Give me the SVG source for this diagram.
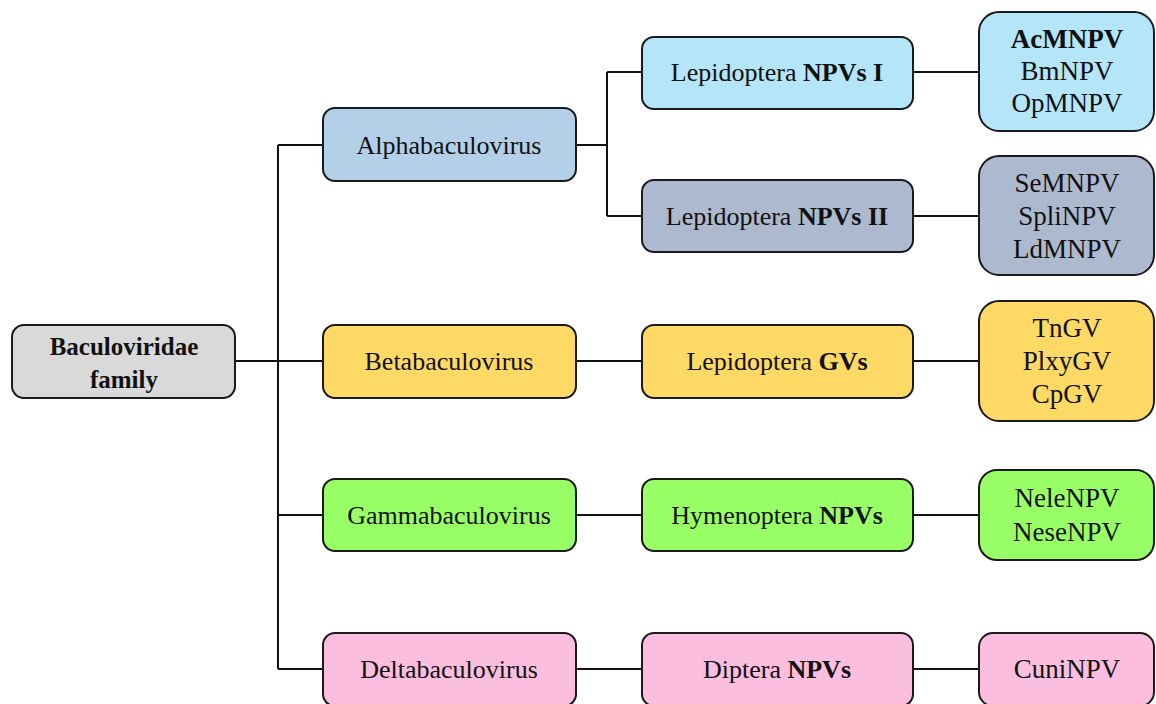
<svg xmlns="http://www.w3.org/2000/svg" width="1156" height="704" viewBox="0 0 1156 704">
<style>
.b{stroke:#1a1a1a;stroke-width:2}
.t{font-size:26px;fill:#111;text-anchor:middle;dominant-baseline:central}
.r{font-size:27px}
.s{font-size:25px}
.bd{font-weight:bold}
.c{fill:none;stroke:#111;stroke-width:2}
</style>
<rect width="1156" height="704" fill="#fff"/>
<g id="connectors">
<path class="c" d="M235 361H323M278 145V669M278 145H323M278 515H323M278 669H323"/>
<path class="c" d="M576 145H607M607 72V216M607 72H642M607 216H642"/>
<path class="c" d="M576 361H642M576 515H642M576 669H642"/>
<path class="c" d="M913 72H979M913 216H979M913 361H979M913 515H979M913 669H979"/>
</g>
<g font-family="Liberation Serif, serif">
<g id="root"><rect class="b" x="12" y="325" width="223" height="73" rx="12" fill="#d9d9d9"/>
<text class="t s bd" x="124" y="346">Baculoviridae</text><text class="t s bd" x="124" y="379">family</text></g>
<g id="alpha"><rect class="b" x="323" y="108" width="253" height="73" rx="12" fill="#b4d0e9"/><text class="t" x="449" y="145">Alphabaculovirus</text></g>
<g id="beta"><rect class="b" x="323" y="325" width="253" height="73" rx="12" fill="#fed966"/><text class="t" x="449" y="361">Betabaculovirus</text></g>
<g id="gamma"><rect class="b" x="323" y="479" width="253" height="72" rx="12" fill="#99ff66"/><text class="t" x="449" y="515">Gammabaculovirus</text></g>
<g id="delta"><rect class="b" x="323" y="633" width="253" height="73" rx="12" fill="#fbbede"/><text class="t" x="449" y="669">Deltabaculovirus</text></g>
<g id="lep1"><rect class="b" x="642" y="37" width="271" height="72" rx="12" fill="#b4e5f8"/><text class="t" x="777" y="72">Lepidoptera <tspan class="bd">NPVs I</tspan></text></g>
<g id="lep2"><rect class="b" x="642" y="180" width="271" height="72" rx="12" fill="#adb9cf"/><text class="t" x="777" y="216">Lepidoptera <tspan class="bd">NPVs II</tspan></text></g>
<g id="lepgv"><rect class="b" x="642" y="325" width="271" height="73" rx="12" fill="#fed966"/><text class="t" x="777" y="361">Lepidoptera <tspan class="bd">GVs</tspan></text></g>
<g id="hymen"><rect class="b" x="642" y="479" width="271" height="72" rx="12" fill="#99ff66"/><text class="t" x="777" y="515">Hymenoptera <tspan class="bd">NPVs</tspan></text></g>
<g id="diptera"><rect class="b" x="642" y="633" width="271" height="73" rx="12" fill="#fbbede"/><text class="t" x="777" y="669">Diptera <tspan class="bd">NPVs</tspan></text></g>
<g id="sp1"><rect class="b" x="979" y="12" width="175" height="119" rx="20" fill="#b4e5f8"/>
<text class="t r bd" x="1067" y="39">AcMNPV</text><text class="t r" x="1067" y="71">BmNPV</text><text class="t r" x="1067" y="103">OpMNPV</text></g>
<g id="sp2"><rect class="b" x="979" y="156" width="175" height="119" rx="20" fill="#adb9cf"/>
<text class="t r" x="1067" y="183">SeMNPV</text><text class="t r" x="1067" y="216">SpliNPV</text><text class="t r" x="1067" y="249">LdMNPV</text></g>
<g id="sp3"><rect class="b" x="979" y="301" width="175" height="120" rx="20" fill="#fed966"/>
<text class="t r" x="1067" y="328">TnGV</text><text class="t r" x="1067" y="361">PlxyGV</text><text class="t r" x="1067" y="394">CpGV</text></g>
<g id="sp4"><rect class="b" x="979" y="470" width="175" height="90" rx="18" fill="#99ff66"/>
<text class="t r" x="1067" y="498">NeleNPV</text><text class="t r" x="1067" y="532">NeseNPV</text></g>
<g id="sp5"><rect class="b" x="979" y="633" width="175" height="73" rx="14" fill="#fbbede"/><text class="t r" x="1067" y="669">CuniNPV</text></g>
</g>
</svg>
